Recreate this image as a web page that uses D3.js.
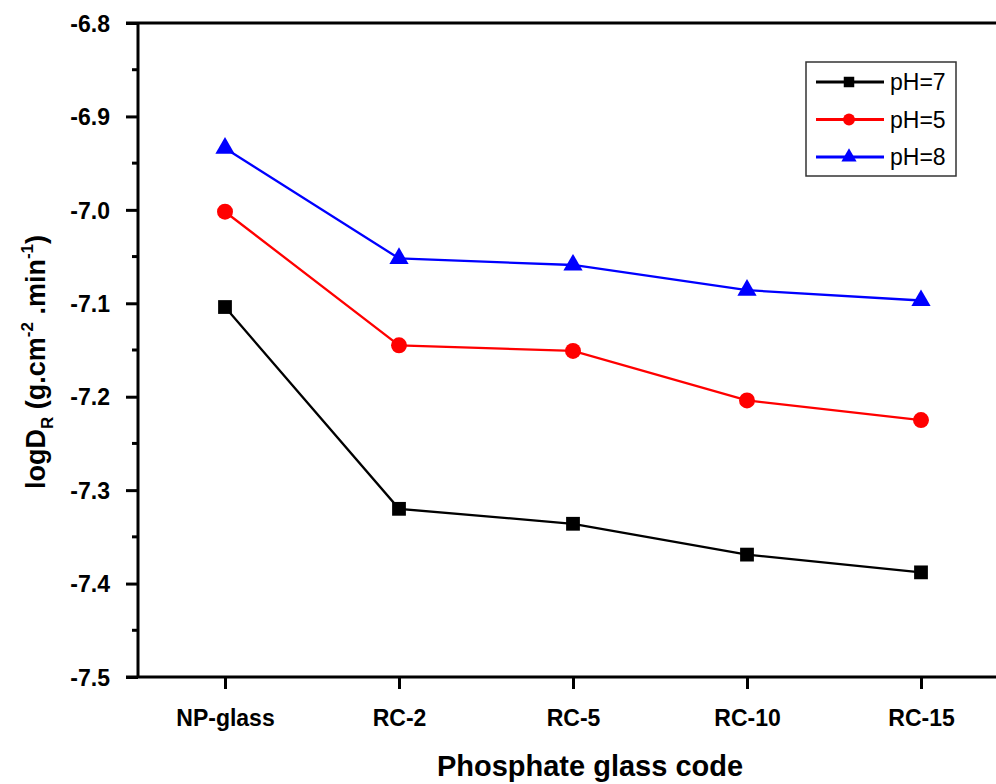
<!DOCTYPE html>
<html>
<head>
<meta charset="utf-8">
<script src="https://cdn.jsdelivr.net/npm/d3@7"></script>
<style>
  body { margin: 0; background: #fff; }
  svg { display: block; font-family: Arial, "Liberation Sans", sans-serif; }
</style>
</head>
<body>
<main></main>
<script>
const categories = ['NP-glass', 'RC-2', 'RC-5', 'RC-10', 'RC-15'];
const ph7 = [-7.104, -7.320, -7.336, -7.369, -7.388];
const ph5 = [-7.002, -7.145, -7.151, -7.204, -7.225];
const ph8 = [-6.934, -7.052, -7.059, -7.086, -7.097];
const yTicks = [-6.8, -6.9, -7.0, -7.1, -7.2, -7.3, -7.4, -7.5];

const series = [
    { name: 'pH=7', values: ph7, color: '#000000', symbol: d3.symbolSquare, size: 190, lsize: 110 },
    { name: 'pH=5', values: ph5, color: '#ff0000', symbol: d3.symbolCircle, size: 200, lsize: 110 },
    { name: 'pH=8', values: ph8, color: '#0000ff', symbol: d3.symbolTriangle, size: 160, lsize: 100 }
];

const w = 996;
const h = 784;
const mLeft = 138, mTop = 23, mBottom = 677;

const svg = d3.select('main').append('svg').attr('width', w).attr('height', h);

const x = d3.scaleLinear().domain([-0.5, 4.5]).range([mLeft, mLeft + 5 * 174]);
const y = d3.scaleLinear().domain([-7.5, -6.8]).range([mBottom, mTop]);

// y axis (major + minor ticks)
const yAxis = d3.axisLeft(y).tickValues(yTicks).tickSize(12).tickPadding(16);
const gy = svg.append('g').attr('transform', `translate(${mLeft},0)`).call(yAxis);
gy.select('.domain').remove();
gy.selectAll('.tick line').attr('stroke-width', 3);
gy.selectAll('.tick text').attr('font-size', 23).attr('font-weight', 'bold').attr('fill', '#000')
    .attr('dy', '0.36em').text(d => d.toFixed(1));
const minor = d3.range(0, 7).map(i => -6.85 - i * 0.1);
svg.append('g').selectAll('line').data(minor).enter().append('line')
    .attr('x1', mLeft - 6).attr('x2', mLeft)
    .attr('y1', d => y(d)).attr('y2', d => y(d))
    .attr('stroke', '#000').attr('stroke-width', 3);

// x axis
const xAxis = d3.axisBottom(x).tickValues(d3.range(categories.length)).tickFormat(i => categories[i]).tickSize(12).tickPadding(21);
const gx = svg.append('g').attr('transform', `translate(0,${mBottom})`).call(xAxis);
gx.select('.domain').remove();
gx.selectAll('.tick line').attr('stroke-width', 3);
gx.selectAll('.tick text').attr('font-size', 23).attr('font-weight', 'bold').attr('fill', '#000');

// frame
svg.append('line').attr('x1', mLeft - 12).attr('x2', w).attr('y1', mTop).attr('y2', mTop).attr('stroke', '#000').attr('stroke-width', 3);
svg.append('line').attr('x1', mLeft - 12).attr('x2', w).attr('y1', mBottom).attr('y2', mBottom).attr('stroke', '#000').attr('stroke-width', 3);
svg.append('line').attr('x1', mLeft).attr('x2', mLeft).attr('y1', mTop).attr('y2', mBottom).attr('stroke', '#000').attr('stroke-width', 3);

// series
const line = d3.line().x((d, i) => x(i)).y(d => y(d));
series.forEach(s => {
    svg.append('path').datum(s.values).attr('d', line)
        .attr('fill', 'none').attr('stroke', s.color).attr('stroke-width', 2.3);
    svg.append('g').selectAll('path').data(s.values).enter().append('path')
        .attr('d', d3.symbol().type(s.symbol).size(s.size))
        .attr('transform', (d, i) => `translate(${x(i)},${y(d)})`)
        .attr('fill', s.color);
});

// legend
const legend = svg.append('g').attr('transform', 'translate(806,62)');
legend.append('rect').attr('width', 150).attr('height', 114)
    .attr('fill', '#fff').attr('stroke', '#333').attr('stroke-width', 1.5);
series.forEach((s, i) => {
    const ly = 20 + i * 37.5;
    legend.append('line').attr('x1', 10).attr('x2', 78).attr('y1', ly).attr('y2', ly)
        .attr('stroke', s.color).attr('stroke-width', 2.8);
    legend.append('path').attr('d', d3.symbol().type(s.symbol).size(s.lsize))
        .attr('transform', `translate(43,${ly})`).attr('fill', s.color);
    legend.append('text').attr('x', 84).attr('y', ly + 8).attr('font-size', 23).attr('fill', '#000').text(s.name);
});

// axis titles
svg.append('text').attr('x', 590).attr('y', 776).attr('text-anchor', 'middle')
    .attr('font-size', 29).attr('font-weight', 'bold').text('Phosphate glass code');

const yt = svg.append('text').attr('transform', 'translate(45,362) rotate(-90)').attr('text-anchor', 'middle')
    .attr('font-size', 27).attr('font-weight', 'bold');
yt.append('tspan').text('logD');
yt.append('tspan').attr('font-size', 17).attr('dy', 8).text('R');
yt.append('tspan').attr('dy', -8).text(' (g.cm');
yt.append('tspan').attr('font-size', 17).attr('dy', -12).text('-2');
yt.append('tspan').attr('dy', 12).text(' .min');
yt.append('tspan').attr('font-size', 17).attr('dy', -12).text('-1');
yt.append('tspan').attr('dy', 12).text(')');
</script>
</body>
</html>
